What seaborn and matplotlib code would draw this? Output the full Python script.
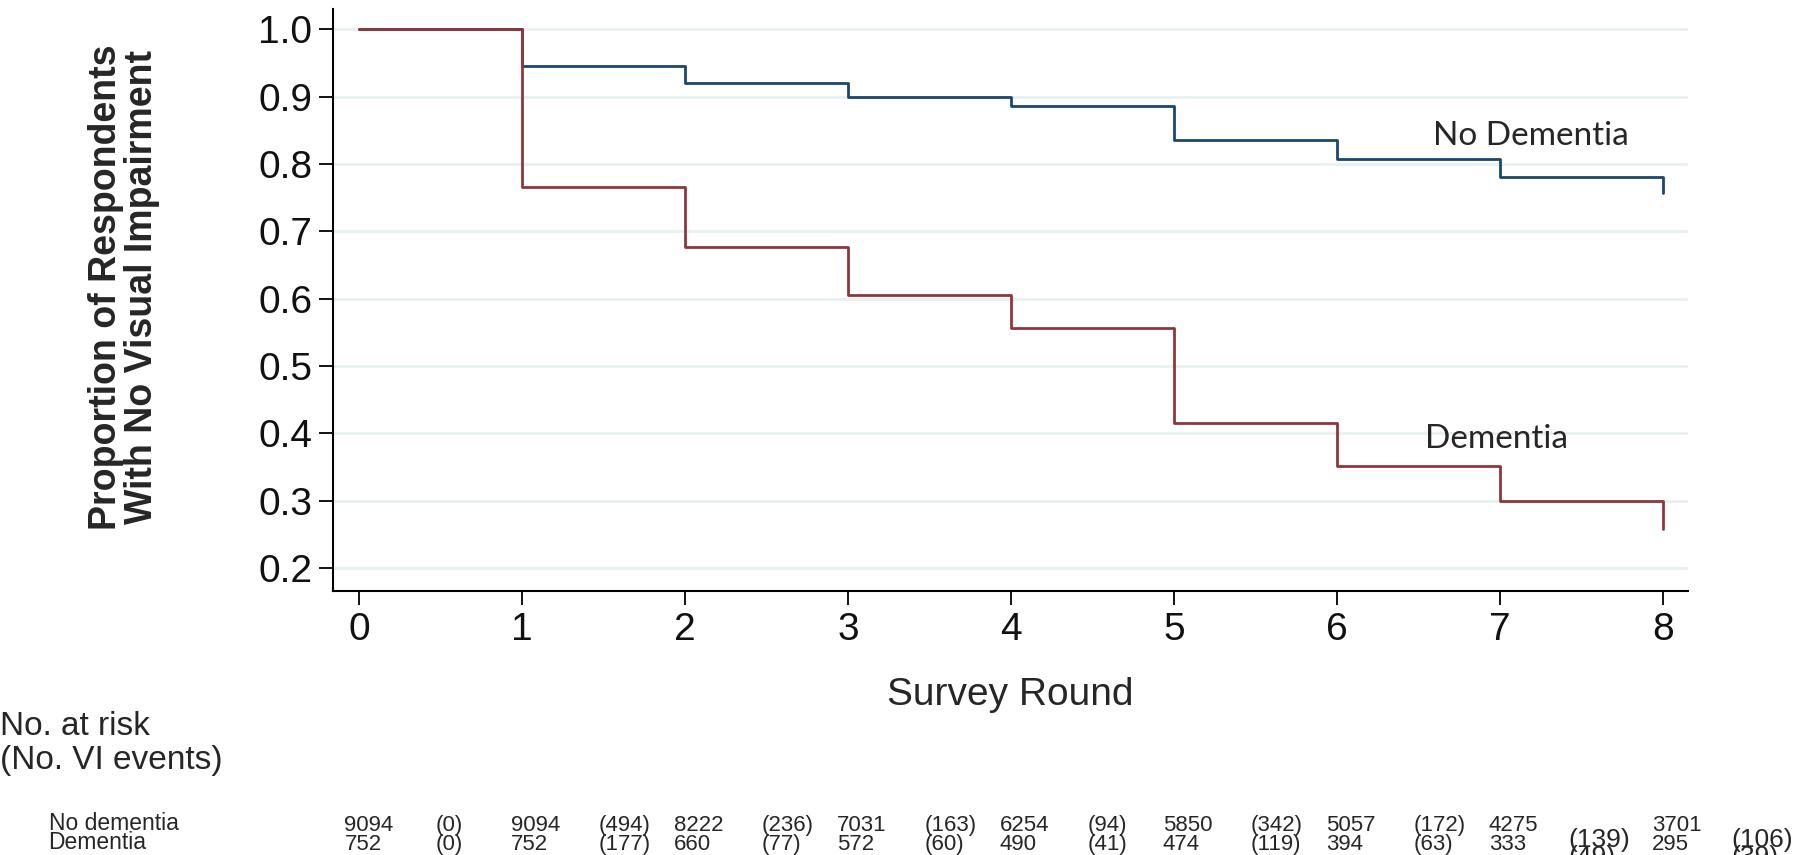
import pandas as pd
import numpy as np
import seaborn as sns
import matplotlib.pyplot as plt
from matplotlib import transforms

# ---- data ----
rounds = [0, 1, 2, 3, 4, 5, 6, 7, 8]
no_dementia = [1.0, 0.945, 0.920, 0.900, 0.886, 0.835, 0.808, 0.781, 0.757]
dementia = [1.0, 0.766, 0.677, 0.606, 0.556, 0.415, 0.351, 0.299, 0.258]

risk_no_dem = ['9094', '9094', '8222', '7031', '6254', '5850', '5057', '4275', '3701']
events_no_dem = ['(0)', '(494)', '(236)', '(163)', '(94)', '(342)', '(172)', '(139)', '(106)']
risk_dem = ['752', '752', '660', '572', '490', '474', '394', '333', '295']
events_dem = ['(0)', '(177)', '(77)', '(60)', '(41)', '(119)', '(63)', '(49)', '(39)']

df = pd.concat([
    pd.DataFrame({'round': rounds, 'prop': no_dementia, 'group': 'No Dementia'}),
    pd.DataFrame({'round': rounds, 'prop': dementia, 'group': 'Dementia'}),
], ignore_index=True)

sns.set_style('white')
plt.rcParams['font.family'] = ['Liberation Sans', 'DejaVu Sans']

fig = plt.figure(figsize=(18, 8.55), dpi=100)
ax = fig.add_axes([0.185, 0.309, 0.753, 0.681])

palette = {'No Dementia': '#1a476f', 'Dementia': '#90353b'}
sns.lineplot(data=df, x='round', y='prop', hue='group', hue_order=['No Dementia', 'Dementia'],
             palette=palette, drawstyle='steps-post', estimator=None, sort=False,
             linewidth=2.0, legend=False, ax=ax)

ax.set_xlim(-0.16, 8.155)
ax.set_ylim(0.166, 1.031)
ax.set_xticks(rounds)
ax.set_yticks(np.arange(0.2, 1.01, 0.1))
ax.set_yticklabels([f'{v:.1f}' for v in np.arange(0.2, 1.01, 0.1)])
ax.grid(axis='y', color='#e8f0f2', linewidth=2)
ax.grid(axis='x', visible=False)
ax.set_axisbelow(True)
sns.despine(ax=ax)
for s in ['left', 'bottom']:
    ax.spines[s].set_color('black')
    ax.spines[s].set_linewidth(1.5)
ax.tick_params(axis='both', direction='out', length=10, width=1.3, color='black',
               labelsize=28, pad=5, left=True, bottom=True, labelcolor='#111111')
ax.set_xlabel('')
ax.set_ylabel('')

fig.text(0.069, 0.664, 'Proportion of Respondents\nWith No Visual Impairment', rotation=90,
         ha='center', va='center', fontsize=27, fontweight='bold', linespacing=1.0)
fig.text(0.561, 0.175, 'Survey Round', ha='center', va='baseline', fontsize=28)

ax.text(6.59, 0.841, 'No Dementia', fontsize=24, family=['Lato', 'DejaVu Sans'], va='center')
ax.text(6.54, 0.391, 'Dementia', fontsize=24, family=['Lato', 'DejaVu Sans'], va='center')

# ---- number at risk table ----
fig.text(0.0, 0.150, 'No. at risk', fontsize=24, va='center')
fig.text(0.0, 0.111, '(No. VI events)', fontsize=24, va='center')
fig.text(0.027, 0.029, 'No dementia', fontsize=16.5, va='baseline')
fig.text(0.027, 0.007, 'Dementia', fontsize=16.5, va='baseline')

trans = transforms.blended_transform_factory(ax.transData, fig.transFigure)
for i, r in enumerate(rounds):
    x0 = r - 0.09 if i == 0 else r - 0.07
    ax.text(x0, 0.028, risk_no_dem[i], transform=trans, fontsize=16, va='baseline', clip_on=False)
    ax.text(x0, 0.006, risk_dem[i], transform=trans, fontsize=16, va='baseline', clip_on=False)
    if i < 7:
        ax.text(r + 0.47, 0.028, events_no_dem[i], transform=trans, fontsize=16, va='baseline', clip_on=False)
        ax.text(r + 0.47, 0.006, events_dem[i], transform=trans, fontsize=16, va='baseline', clip_on=False)
    else:
        # last two event columns were pasted in larger and lower
        ax.text(r + 0.42, 0.009, events_no_dem[i], transform=trans, fontsize=19, va='baseline', clip_on=False)
        ax.text(r + 0.42, -0.011, events_dem[i], transform=trans, fontsize=19, va='baseline', clip_on=False)

fig.savefig('out.png', dpi=100)
